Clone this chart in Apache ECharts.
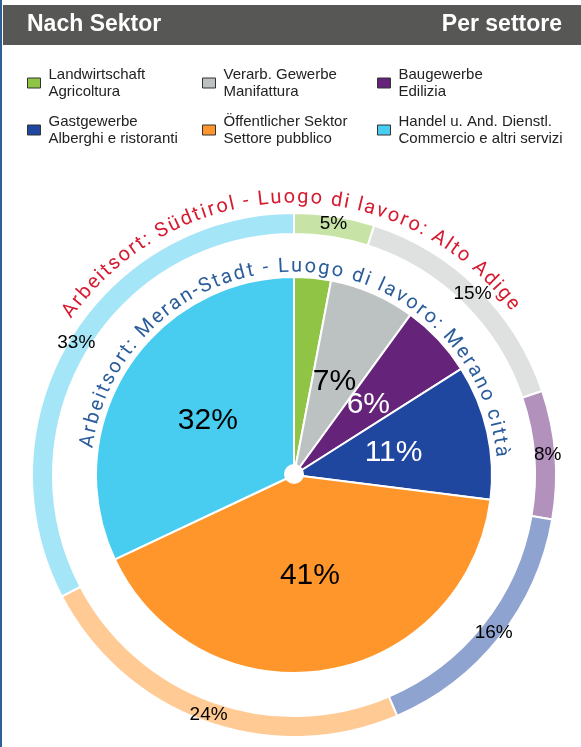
<!DOCTYPE html>
<html>
<head>
<meta charset="utf-8">
<script src="https://cdn.jsdelivr.net/npm/echarts@6/dist/echarts.min.js"></script>
<style>
    html, body { margin: 0; padding: 0; background: #fff; }
    #main { width: 581px; height: 747px; }
</style>
</head>
<body>
<div id="main"></div>
<script>
// Sektoren (DE / IT)
var sectors = [
    'Landwirtschaft\nAgricoltura',
    'Verarb. Gewerbe\nManifattura',
    'Baugewerbe\nEdilizia',
    'Gastgewerbe\nAlberghi e ristoranti',
    'Öffentlicher Sektor\nSettore pubblico',
    'Handel u. And. Dienstl.\nCommercio e altri servizi'
];
// Meran-Stadt (innen), Südtirol (außen), in %
var meranValues = [3, 7, 6, 11, 41, 32];
var suedtirolValues = [5, 15, 8, 16, 24, 33];

var innerColors = ['#8fc444', '#bcc1c1', '#652479', '#1f47a0', '#ff962b', '#48cdf0'];
var outerColors = ['#c7e3a6', '#dfe1e1', '#b291bd', '#8fa3d0', '#ffca94', '#a4e5f7'];
var innerLabelColors = ['#000', '#000', '#fff', '#fff', '#000', '#000'];

var cx = 294, cy = 475;

// Text entlang eines Kreisbogens, Buchstabe für Buchstabe
function arcText(str, rBase, fontSize, startDeg, endDeg, color) {
    var font = fontSize + 'px Roboto';
    var ctx = document.createElement('canvas').getContext('2d');
    ctx.font = font;
    var chars = str.split('');
    var widths = chars.map(function (c) { return ctx.measureText(c).width; });
    var total = widths.reduce(function (a, b) { return a + b; }, 0);
    var arcLen = (endDeg - startDeg) * Math.PI / 180 * rBase;
    var spacing = (arcLen - total) / (chars.length - 1);
    var rm = rBase + fontSize * 0.32;
    var s = 0;
    var els = [];
    chars.forEach(function (c, i) {
        var ang = startDeg * Math.PI / 180 + (s + widths[i] / 2) / rBase;
        s += widths[i] + spacing;
        els.push({
            type: 'text',
            x: cx + rm * Math.sin(ang),
            y: cy - rm * Math.cos(ang),
            rotation: -ang,
            z: 100,
            style: {
                text: c,
                fill: color,
                font: font,
                align: 'center',
                verticalAlign: 'middle'
            }
        });
    });
    return els;
}

var graphics = [
    { type: 'rect', shape: { x: 0, y: 0, width: 2, height: 747 }, style: { fill: '#2f5f97' } },
    { type: 'rect', shape: { x: 3, y: 5, width: 578, height: 40 }, style: { fill: '#575756' } },
    {
        type: 'text', x: 27, y: 25,
        style: { text: 'Nach Sektor', fill: '#fff', font: 'bold 23px "Liberation Sans"', verticalAlign: 'middle' }
    },
    {
        type: 'text', x: 562, y: 25,
        style: { text: 'Per settore', fill: '#fff', font: 'bold 23px "Liberation Sans"', align: 'right', verticalAlign: 'middle' }
    },
    { type: 'circle', z: 100, shape: { cx: cx, cy: cy - 1, r: 10 }, style: { fill: '#fff' } }
];
graphics = graphics
    .concat(arcText('Arbeitsort: Südtirol - Luogo di lavoro: Alto Adige', 271, 20, -55, 53, '#d61a30'))
    .concat(arcText('Arbeitsort: Meran-Stadt - Luogo di lavoro: Merano città', 202, 20, -82.5, 85, '#2b5d9b'));

function legendCol(names, left) {
    return {
        data: names,
        orient: 'vertical',
        left: left,
        top: 66,
        padding: 0,
        itemGap: 13,
        itemWidth: 13,
        itemHeight: 10,
        icon: 'rect',
        selectedMode: false,
        itemStyle: { borderColor: '#333', borderWidth: 1 },
        textStyle: {
            fontFamily: 'Liberation Sans',
            fontSize: 15,
            lineHeight: 17,
            color: '#222',
            padding: [0, 0, 0, 3]
        }
    };
}

var option = {
    animation: false,
    backgroundColor: '#fff',
    legend: [
        legendCol([sectors[0], sectors[3]], 27),
        legendCol([sectors[1], sectors[4]], 202),
        legendCol([sectors[2], sectors[5]], 377)
    ],
    graphic: graphics,
    series: [{
        name: 'Meran-Stadt',
        type: 'pie',
        center: [cx, cy],
        radius: [0, 198],
        startAngle: 90,
        clockwise: true,
        avoidLabelOverlap: false,
        minShowLabelAngle: 0,
        labelLayout: { hideOverlap: false },
        itemStyle: { borderColor: '#fff', borderWidth: 2 },
        label: {
            position: 'inner',
            formatter: '{c}%',
            fontFamily: 'Liberation Sans',
            fontSize: 30
        },
        labelLine: { show: false },
        data: sectors.map(function (n, i) {
            return {
                name: n,
                value: meranValues[i],
                itemStyle: { color: innerColors[i] },
                label: { show: i > 0, color: innerLabelColors[i] }
            };
        })
    }, {
        name: 'Südtirol',
        type: 'pie',
        center: [cx, cy],
        radius: [241, 262],
        startAngle: 90,
        clockwise: true,
        avoidLabelOverlap: false,
        labelLayout: { hideOverlap: false },
        itemStyle: { borderColor: '#fff', borderWidth: 2 },
        label: {
            position: 'inside',
            formatter: '{c}%',
            fontFamily: 'Liberation Sans',
            fontSize: 19,
            color: '#000'
        },
        labelLine: { show: false },
        data: sectors.map(function (n, i) {
            return { name: n, value: suedtirolValues[i], itemStyle: { color: outerColors[i] } };
        })
    }]
};

var myChart = echarts.init(document.getElementById('main'));
myChart.setOption(option);
</script>
</body>
</html>
